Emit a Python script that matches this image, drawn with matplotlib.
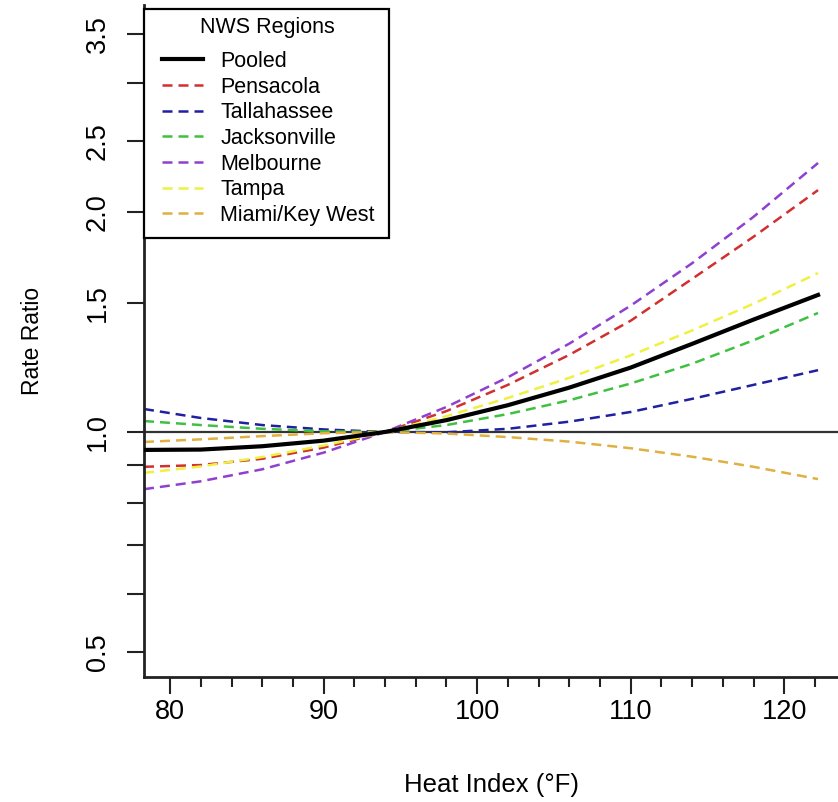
import numpy as np
import matplotlib
matplotlib.use("Agg")
import matplotlib.pyplot as plt
from matplotlib.patches import Rectangle
from matplotlib.ticker import FixedLocator, NullFormatter, FixedFormatter

plt.rcParams["font.family"] = ["Liberation Sans", "DejaVu Sans"]

# heat index grid (deg F) and rate ratios
heat_index = [78.3, 82, 86, 90, 94, 98, 102, 106, 110, 114, 118, 122.2]

pooled       = [0.945, 0.946, 0.956, 0.973, 1.000, 1.038, 1.088, 1.150, 1.225, 1.320, 1.425, 1.540]
pensacola    = [0.896, 0.901, 0.919, 0.952, 1.000, 1.068, 1.160, 1.275, 1.420, 1.620, 1.850, 2.143]
tallahassee  = [1.075, 1.045, 1.022, 1.008, 1.000, 0.999, 1.010, 1.033, 1.065, 1.110, 1.160, 1.215]
jacksonville = [1.035, 1.022, 1.010, 1.002, 1.000, 1.022, 1.058, 1.105, 1.165, 1.240, 1.335, 1.455]
melbourne    = [0.835, 0.856, 0.889, 0.937, 1.000, 1.082, 1.188, 1.321, 1.489, 1.702, 1.970, 2.334]
tampa        = [0.879, 0.897, 0.924, 0.958, 1.000, 1.051, 1.113, 1.186, 1.273, 1.377, 1.498, 1.650]
miami        = [0.969, 0.977, 0.987, 0.996, 1.000, 0.995, 0.984, 0.970, 0.950, 0.925, 0.896, 0.862]

regions = ["Pensacola", "Tallahassee", "Jacksonville", "Melbourne", "Tampa", "Miami/Key West"]
region_vals = [pensacola, tallahassee, jacksonville, melbourne, tampa, miami]
region_cols = ["#d03030", "#2020a0", "#40c040", "#9040d0", "#f0f040", "#e0b040"]

y_major = [0.5, 1.0, 1.5, 2.0, 2.5, 3.5]
y_minor = [0.6, 0.7, 0.8, 0.9, 3.0]

W, H = 838, 802
fig = plt.figure(figsize=(W / 100, H / 100), dpi=100)
ax = fig.add_axes([144 / W, 1 - 677 / H, 694 / W, 672 / H])

ax.axhline(1.0, color="#333333", lw=1.6, zorder=1)

ax.plot(heat_index, pooled, color="black", lw=3, label="Pooled", zorder=3)
for name, vals, col in zip(regions, region_vals, region_cols):
    ax.plot(heat_index, vals, color=col, lw=1.8, dashes=(4, 2.4), label=name, zorder=2)

ax.set_yscale("log")
ax.set_ylim(0.462, 3.84)
ax.set_xlim(78.3, 123.5)

ax.yaxis.set_major_locator(FixedLocator(y_major))
ax.yaxis.set_major_formatter(FixedFormatter(["%.1f" % v for v in y_major]))
ax.yaxis.set_minor_locator(FixedLocator(y_minor))
ax.yaxis.set_minor_formatter(NullFormatter())

ax.xaxis.set_major_locator(FixedLocator(np.arange(80, 121, 10)))
ax.xaxis.set_minor_locator(FixedLocator(np.arange(80, 123, 2)))

ax.tick_params(axis="both", which="both", direction="out", width=1.5, labelsize=19.5, color="#222222")
ax.tick_params(axis="y", which="both", length=12, pad=12)
ax.tick_params(axis="x", which="major", length=12, pad=4)
ax.tick_params(axis="x", which="minor", length=7)
for lbl in ax.get_yticklabels():
    lbl.set_rotation(90)
    lbl.set_va("center")

for s in ["top", "right"]:
    ax.spines[s].set_visible(False)
for s in ["left", "bottom"]:
    ax.spines[s].set_linewidth(2)
    ax.spines[s].set_color("#222222")

ax.set_xlabel("Heat Index (\u00b0F)", fontsize=18.5, va="center")
ax.set_ylabel("Rate Ratio", fontsize=16.5, va="center")
ax.xaxis.set_label_coords(0.5, -(785 - 677) / 672)
ax.yaxis.set_label_coords(-(144 - 33) / 694, 0.5)

# legend box drawn on its own, entries and title placed inside it
box = Rectangle((144 / W, 1 - 238 / H), 245 / W, 229 / H, transform=fig.transFigure,
                facecolor="white", edgecolor="black", lw=1.6, zorder=4)
fig.add_artist(box)
fig.text(267 / W, 1 - 27 / H, "NWS Regions", fontsize=15.5, ha="center", va="center", zorder=5)
leg = ax.legend(loc="upper left", bbox_to_anchor=(162 / W, 1 - 51 / H), bbox_transform=fig.transFigure,
                borderaxespad=0, borderpad=0, fontsize=15.5, frameon=False,
                handlelength=1.9, handletextpad=0.8, labelspacing=0.215)
leg.set_zorder(6)
fig.add_artist(leg)

fig.savefig("out.png", dpi=100)
